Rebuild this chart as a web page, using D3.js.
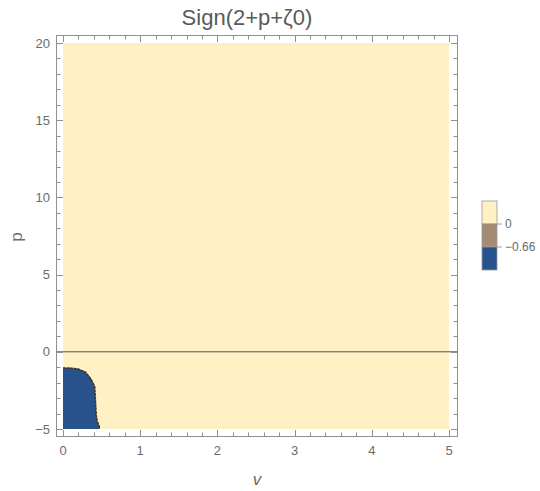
<!DOCTYPE html>
<meta charset="utf-8">
<style>
	body { margin: 0; background: #fff; font-family: "Liberation Sans", Arial, sans-serif; }
	text { fill: #6b6b6b; }
</style>
<body>
<svg id="chart" width="540" height="491"></svg>
<script src="https://cdnjs.cloudflare.com/ajax/libs/d3/7.8.5/d3.min.js"></script>
<script>
	// tick labels
	var vTicks = [0, 1, 2, 3, 4, 5];
	var pTicks = [-5, 0, 5, 10, 15, 20];

	// region where the sign is negative (boundary)
	var negV = [0, 0.08, 0.2, 0.29, 0.36, 0.41, 0.42, 0.43, 0.44, 0.47, 0.47, 0];
	var negP = [-1.05, -1.05, -1.12, -1.32, -1.75, -2.25, -3.2, -4.1, -4.45, -4.85, -5, -5];

	// legend
	var legendLevels = ["0", "\u22120.66"];
	var legendColors = ["#fff1c4", "#a68b74", "#27528b"];

	var svg = d3.select("#chart");
	var frame = {left: 56, right: 457, top: 35, bottom: 436};

	var x = d3.scaleLinear().domain([0, 5]).range([63, 449]);
	var y = d3.scaleLinear().domain([-5, 20]).range([429, 43]);

	// positive region
	svg.append("rect")
		.attr("x", x(0)).attr("y", y(20))
		.attr("width", x(5) - x(0)).attr("height", y(-5) - y(20))
		.attr("fill", legendColors[0]);

	var pts = negV.map(function(v, i) { return [v, negP[i]]; });
	var line = d3.line().x(function(d) { return x(d[0]); }).y(function(d) { return y(d[1]); });

	svg.append("path")
		.attr("d", line(pts) + "Z")
		.attr("fill", legendColors[2]);

	// contour edge (only the interior boundary)
	svg.append("path")
		.attr("d", line(pts.slice(0, 11)))
		.attr("fill", "none")
		.attr("stroke", "#3e3427")
		.attr("stroke-width", 1.6)
		.attr("stroke-dasharray", "3,0.6");

	// axis line p = 0
	svg.append("line")
		.attr("x1", frame.left).attr("x2", frame.right)
		.attr("y1", y(0)).attr("y2", y(0))
		.attr("stroke", "#555").attr("stroke-width", 1);

	// frame
	svg.append("rect")
		.attr("x", frame.left + 0.5).attr("y", frame.top + 0.5)
		.attr("width", frame.right - frame.left).attr("height", frame.bottom - frame.top)
		.attr("fill", "none").attr("stroke", "#8f8f8f").attr("stroke-width", 1);

	var tickColor = "#8f8f8f";
	var g = svg.append("g").attr("stroke", tickColor).attr("stroke-width", 1);

	// x ticks (bottom + top), inward
	d3.range(0, 5.0001, 0.2).forEach(function(v) {
		var major = Math.abs(v - Math.round(v)) < 1e-6;
		var len = major ? 6 : 3.5;
		var px = Math.round(x(v)) + 0.5;
		g.append("line").attr("x1", px).attr("x2", px)
			.attr("y1", frame.bottom).attr("y2", frame.bottom - len);
		g.append("line").attr("x1", px).attr("x2", px)
			.attr("y1", frame.top + 1).attr("y2", frame.top + 1 + len);
	});

	// y ticks (left + right), inward
	d3.range(-5, 20.0001, 1).forEach(function(p) {
		var major = p % 5 === 0;
		var len = major ? 6 : 3.5;
		var py = Math.round(y(p)) + 0.5;
		g.append("line").attr("y1", py).attr("y2", py)
			.attr("x1", frame.left + 1).attr("x2", frame.left + 1 + len);
		g.append("line").attr("y1", py).attr("y2", py)
			.attr("x1", frame.right).attr("x2", frame.right - len);
	});

	// tick labels
	svg.selectAll(".xl").data(vTicks).enter().append("text")
		.attr("x", function(d) { return x(d); })
		.attr("y", 455)
		.attr("text-anchor", "middle")
		.attr("font-size", 13)
		.text(function(d) { return d; });

	svg.selectAll(".yl").data(pTicks).enter().append("text")
		.attr("x", 50)
		.attr("y", function(d) { return y(d) + 4.5; })
		.attr("text-anchor", "end")
		.attr("font-size", 13)
		.text(function(d) { return d < 0 ? "\u2212" + Math.abs(d) : d; });

	// title and axis labels
	svg.append("text")
		.attr("x", 247).attr("y", 25)
		.attr("text-anchor", "middle")
		.attr("font-size", 22)
		.style("fill", "#5a5a5a")
		.text("Sign(2+p+\u03B60)");

	svg.append("text")
		.attr("x", 257).attr("y", 485)
		.attr("text-anchor", "middle")
		.attr("font-size", 17)
		.attr("font-style", "italic")
		.text("v");

	svg.append("text")
		.attr("transform", "translate(22,237) rotate(-90)")
		.attr("text-anchor", "middle")
		.attr("font-size", 17)
		.text("p");

	// legend
	var lg = svg.append("g");
	var lx = 482, ly = 201, lw = 15, lh = 23;
	legendColors.forEach(function(c, i) {
		lg.append("rect")
			.attr("x", lx).attr("y", ly + i * lh)
			.attr("width", lw).attr("height", lh)
			.attr("fill", c)
			.attr("stroke", "#9a9a9a").attr("stroke-width", 0.8);
	});
	legendLevels.forEach(function(t, i) {
		var yy = ly + (i + 1) * lh;
		lg.append("line")
			.attr("x1", lx + lw).attr("x2", lx + lw + 5)
			.attr("y1", yy).attr("y2", yy)
			.attr("stroke", "#9a9a9a");
		lg.append("text")
			.attr("x", lx + lw + 8).attr("y", yy + 4)
			.attr("font-size", 12)
			.text(t);
	});
</script>
</body>
